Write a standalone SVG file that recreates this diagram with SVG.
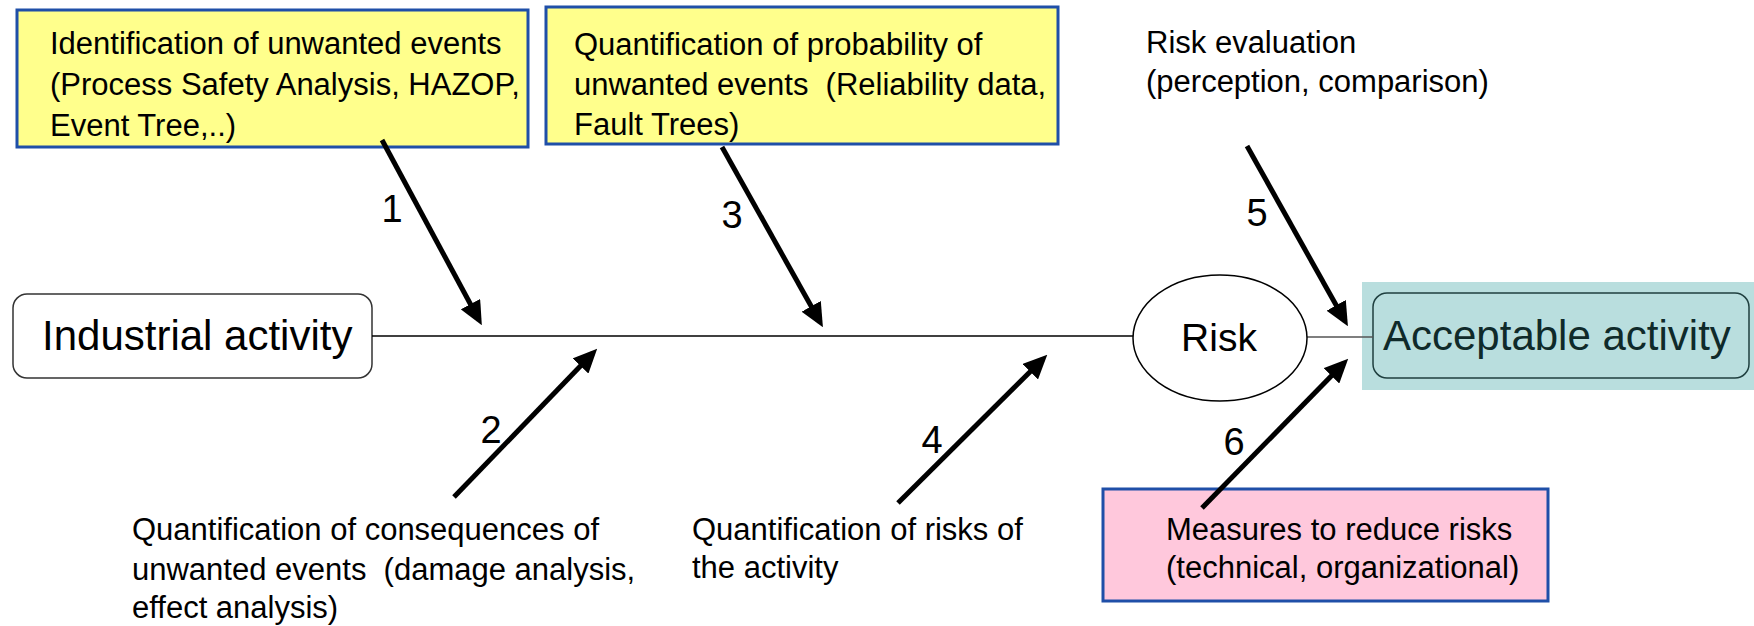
<svg xmlns="http://www.w3.org/2000/svg" width="1754" height="626" viewBox="0 0 1754 626">
<style>
text{font-family:"Liberation Sans",Arial,sans-serif;fill:#000;white-space:pre}
.t{font-size:31px}
.big{font-size:42px}
.num{font-size:38px;text-anchor:middle}
.ybox{fill:#FFFF8C;stroke:#1F4FA8;stroke-width:3}
.pbox{fill:#FFC8DC;stroke:#1F4FA8;stroke-width:3}
.arr{stroke:#000;stroke-width:5;fill:none;marker-end:url(#ah)}
.thin{stroke:#000;stroke-width:1.5;fill:none}
</style>
<defs>
<marker id="ah" markerUnits="userSpaceOnUse" markerWidth="24" markerHeight="22" refX="18" refY="11" orient="auto">
<path d="M0,0 L24,11 L0,22 z" fill="#000"/>
</marker>
</defs>
<rect width="1754" height="626" fill="#fff"/>
<g id="identification">
<rect class="ybox" x="17" y="10" width="511" height="137"/>
<text class="t" x="50" y="54">Identification of unwanted events</text>
<text class="t" x="50" y="95">(Process Safety Analysis, HAZOP,</text>
<text class="t" x="50" y="136">Event Tree,..)</text>
</g>
<g id="probability">
<rect class="ybox" x="546" y="7" width="512" height="137"/>
<text class="t" x="574" y="55">Quantification of probability of</text>
<text class="t" x="574" y="95" xml:space="preserve">unwanted events  (Reliability data,</text>
<text class="t" x="574" y="135">Fault Trees)</text>
</g>
<g id="evaluation">
<text class="t" x="1146" y="53">Risk evaluation</text>
<text class="t" x="1146" y="92">(perception, comparison)</text>
</g>
<g id="industrial">
<rect x="13" y="294" width="359" height="84" rx="14" fill="#fff" stroke="#333" stroke-width="1.5"/>
<text class="big" x="42" y="350">Industrial activity</text>
</g>
<g id="acceptable">
<rect x="1362" y="282" width="392" height="108" fill="#B9DEDE"/>
<rect x="1373" y="293" width="376" height="85" rx="14" fill="none" stroke="#1F3F3F" stroke-width="1.5"/>
<text class="big" x="1383" y="350" style="fill:#0F2A2A">Acceptable activity</text>
</g>
<g id="consequences">
<text class="t" x="132" y="540">Quantification of consequences of</text>
<text class="t" x="132" y="580" xml:space="preserve">unwanted events  (damage analysis,</text>
<text class="t" x="132" y="618">effect analysis)</text>
</g>
<g id="risks">
<text class="t" x="692" y="540">Quantification of risks of</text>
<text class="t" x="692" y="578">the activity</text>
</g>
<g id="measures">
<rect class="pbox" x="1103" y="489" width="445" height="112"/>
<text class="t" x="1166" y="540">Measures to reduce risks</text>
<text class="t" x="1166" y="578">(technical, organizational)</text>
</g>
<g id="connectors">
<line class="thin" x1="372" y1="336" x2="1133" y2="336"/>
<line x1="1307" y1="337" x2="1373" y2="337" stroke="#555" stroke-width="1.5"/>
<line class="arr" x1="382" y1="140" x2="479" y2="320"/>
<line class="arr" x1="722" y1="147" x2="820" y2="322"/>
<line class="arr" x1="1247" y1="146" x2="1345" y2="321"/>
<line class="arr" x1="454" y1="497" x2="593" y2="353"/>
<line class="arr" x1="898" y1="503" x2="1043" y2="359"/>
<line class="arr" x1="1202" y1="508" x2="1344" y2="363"/>
<text class="num" x="392" y="222">1</text>
<text class="num" x="491" y="443">2</text>
<text class="num" x="732" y="228">3</text>
<text class="num" x="932" y="453">4</text>
<text class="num" x="1257" y="226">5</text>
<text class="num" x="1234" y="455">6</text>
</g>
<g id="risk">
<ellipse cx="1220" cy="338" rx="87" ry="63" fill="#fff" stroke="#000" stroke-width="1.5"/>
<text x="1219" y="351" style="font-size:39px;text-anchor:middle">Risk</text>
</g>
</svg>
